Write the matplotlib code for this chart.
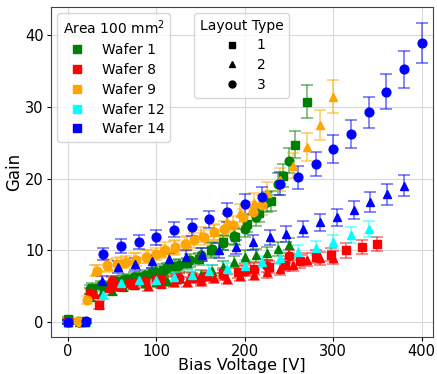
import matplotlib
matplotlib.use("Agg")
import matplotlib.pyplot as plt
from matplotlib.lines import Line2D

# Wafer 1 (green)
w1_sq_v = [0, 13.5, 27, 40.5, 54, 67.5, 81, 94.5, 108, 121.5, 135, 148.5, 162, 175.5, 189, 202.5, 216, 229.5, 243, 256.5, 270]
w1_sq_g = [0.5, 0.2, 4.8, 5.0, 5.7, 6.0, 6.3, 6.8, 7.3, 7.8, 8.2, 8.8, 10.0, 11.1, 11.9, 13.7, 15.2, 16.9, 20.4, 24.7, 30.7]
w1_sq_e = [0.3, 0.3, 0.6, 0.6, 0.7, 0.7, 0.7, 0.7, 0.8, 0.8, 0.8, 0.9, 1.0, 1.0, 1.1, 1.2, 1.3, 1.4, 1.6, 1.9, 2.3]
w1_tr_v = [0, 12.5, 25, 37.5, 50, 62.5, 75, 87.5, 100, 112.5, 125, 137.5, 150, 162.5, 175, 187.5, 200, 212.5, 225, 237.5, 250]
w1_tr_g = [0.0, 0.0, 3.5, 4.0, 4.4, 4.9, 5.2, 5.4, 5.6, 5.8, 6.1, 6.3, 6.6, 7.2, 7.7, 8.4, 9.1, 9.3, 9.6, 10.2, 10.7]
w1_tr_e = [0.3, 0.3, 0.5, 0.6, 0.6, 0.6, 0.6, 0.6, 0.7, 0.7, 0.7, 0.7, 0.7, 0.8, 0.8, 0.8, 0.9, 0.9, 0.9, 1.0, 1.0]
w1_ci_v = [0, 12.5, 25, 37.5, 50, 62.5, 75, 87.5, 100, 112.5, 125, 137.5, 150, 162.5, 175, 187.5, 200, 212.5, 225, 237.5, 250]
w1_ci_g = [0.2, 0.1, 4.6, 5.2, 5.6, 5.9, 6.3, 6.6, 7.0, 7.5, 8.0, 8.6, 9.4, 10.2, 11.0, 12.0, 13.0, 14.6, 16.7, 19.2, 22.5]
w1_ci_e = [0.3, 0.3, 0.6, 0.6, 0.7, 0.7, 0.7, 0.7, 0.8, 0.8, 0.8, 0.9, 0.9, 1.0, 1.0, 1.1, 1.1, 1.2, 1.4, 1.5, 1.8]

# Wafer 8 (red)
w8_sq_v = [0, 17.5, 35, 52.5, 70, 87.5, 105, 122.5, 140, 157.5, 175, 192.5, 210, 227.5, 245, 262.5, 280, 297.5, 315, 332.5, 350]
w8_sq_g = [0.1, 0.1, 2.4, 5.0, 5.5, 5.7, 6.0, 6.0, 6.2, 6.5, 6.8, 7.0, 7.4, 7.7, 8.0, 8.5, 9.1, 9.4, 10.0, 10.5, 10.9]
w8_sq_e = [0.3, 0.3, 0.5, 0.6, 0.7, 0.7, 0.7, 0.7, 0.7, 0.7, 0.7, 0.8, 0.8, 0.8, 0.8, 0.9, 0.9, 0.9, 1.0, 1.0, 1.0]
w8_tr_v = [0, 15, 30, 45, 60, 75, 90, 105, 120, 135, 150, 165, 180, 195, 210, 225, 240, 255, 270, 285, 300]
w8_tr_g = [0.0, 0.0, 4.0, 4.8, 5.0, 5.2, 5.0, 5.3, 5.6, 5.6, 5.7, 6.2, 6.0, 6.5, 6.6, 7.0, 7.4, 7.9, 8.7, 8.9, 9.0]
w8_tr_e = [0.3, 0.3, 0.6, 0.6, 0.6, 0.6, 0.6, 0.6, 0.7, 0.7, 0.7, 0.7, 0.7, 0.7, 0.7, 0.8, 0.8, 0.8, 0.9, 0.9, 0.9]
w8_ci_v = [0, 25, 50, 75, 100, 125, 150, 175, 200, 225, 250]
w8_ci_g = [0.0, 4.1, 5.8, 5.5, 6.0, 6.2, 6.0, 6.6, 7.2, 7.8, 9.2]
w8_ci_e = [0.3, 0.6, 0.7, 0.7, 0.7, 0.7, 0.7, 0.7, 0.8, 0.8, 0.9]

# Wafer 9 (orange)
w9_tr_v = [0, 15, 30, 45, 60, 75, 90, 105, 120, 135, 150, 165, 180, 195, 210, 225, 240, 255, 270, 285, 300]
w9_tr_g = [0.0, 0.1, 7.2, 7.8, 8.3, 8.8, 9.2, 9.8, 10.3, 11.0, 12.2, 12.5, 13.9, 15.2, 16.6, 18.0, 19.8, 21.8, 24.4, 27.5, 31.4]
w9_tr_e = [0.3, 0.3, 0.8, 0.8, 0.8, 0.9, 0.9, 0.9, 1.0, 1.0, 1.1, 1.1, 1.2, 1.3, 1.4, 1.5, 1.6, 1.7, 1.9, 2.1, 2.3]
w9_ci_v = [0, 11, 22, 33, 44, 55, 66, 77, 88, 99, 110, 121, 132, 143, 154, 165, 176, 187, 198, 209, 220]
w9_ci_g = [0.1, 0.2, 3.1, 7.2, 8.0, 8.1, 8.4, 8.7, 9.1, 9.5, 10.1, 10.5, 10.9, 11.4, 11.8, 12.6, 13.0, 13.6, 14.6, 15.4, 16.3]
w9_ci_e = [0.3, 0.3, 0.5, 0.8, 0.8, 0.8, 0.8, 0.9, 0.9, 0.9, 1.0, 1.0, 1.0, 1.0, 1.1, 1.1, 1.1, 1.2, 1.2, 1.3, 1.4]

# Wafer 12 (cyan)
w12_tr_v = [0, 20, 40, 60, 80, 100, 120, 140, 160, 180, 200, 220, 240, 260, 280, 300, 320, 340]
w12_tr_g = [0.0, 0.0, 3.8, 5.4, 5.9, 5.9, 6.3, 6.6, 7.1, 7.4, 7.8, 8.4, 9.0, 9.8, 10.3, 11.2, 12.1, 13.0]
w12_tr_e = [0.3, 0.3, 0.5, 0.6, 0.7, 0.7, 0.7, 0.7, 0.8, 0.8, 0.8, 0.8, 0.9, 0.9, 1.0, 1.0, 1.1, 1.1]

# Wafer 14 (blue)
w14_tr_v = [0, 19, 38, 57, 76, 95, 114, 133, 152, 171, 190, 209, 228, 247, 266, 285, 304, 323, 342, 361, 380]
w14_tr_g = [0.0, 0.1, 5.7, 7.7, 8.1, 8.5, 8.8, 9.1, 9.4, 10.0, 10.5, 11.1, 11.8, 12.3, 13.0, 13.9, 14.6, 15.6, 16.7, 17.8, 19.0]
w14_tr_e = [0.3, 0.3, 0.7, 0.8, 0.8, 0.9, 0.9, 0.9, 0.9, 1.0, 1.0, 1.0, 1.1, 1.1, 1.1, 1.2, 1.2, 1.3, 1.4, 1.5, 1.5]
w14_ci_v = [0, 20, 40, 60, 80, 100, 120, 140, 160, 180, 200, 220, 240, 260, 280, 300, 320, 340, 360, 380, 400]
w14_ci_g = [0.0, 0.2, 9.5, 10.6, 11.2, 11.8, 12.9, 13.2, 14.3, 15.3, 16.5, 17.4, 19.3, 20.2, 22.0, 24.1, 26.2, 29.2, 32.1, 35.2, 38.9]
w14_ci_e = [0.3, 0.3, 0.9, 1.0, 1.0, 1.1, 1.1, 1.2, 1.2, 1.3, 1.4, 1.4, 1.6, 1.6, 1.7, 1.9, 2.0, 2.2, 2.4, 2.6, 2.8]

wafer_names = ["Wafer 1", "Wafer 8", "Wafer 9", "Wafer 12", "Wafer 14"]
wafer_colors = ["green", "red", "orange", "cyan", "blue"]
layout_names = ["1", "2", "3"]
layout_markers = ["s", "^", "o"]

series = [
    (w1_sq_v, w1_sq_g, w1_sq_e, "green", "s"),
    (w1_tr_v, w1_tr_g, w1_tr_e, "green", "^"),
    (w1_ci_v, w1_ci_g, w1_ci_e, "green", "o"),
    (w8_sq_v, w8_sq_g, w8_sq_e, "red", "s"),
    (w8_tr_v, w8_tr_g, w8_tr_e, "red", "^"),
    (w8_ci_v, w8_ci_g, w8_ci_e, "red", "o"),
    (w9_tr_v, w9_tr_g, w9_tr_e, "orange", "^"),
    (w9_ci_v, w9_ci_g, w9_ci_e, "orange", "o"),
    (w12_tr_v, w12_tr_g, w12_tr_e, "cyan", "^"),
    (w14_tr_v, w14_tr_g, w14_tr_e, "blue", "^"),
    (w14_ci_v, w14_ci_g, w14_ci_e, "blue", "o"),
]

fig = plt.figure(figsize=(4.37, 3.74), dpi=100)
ax = fig.add_axes([0.116, 0.098, 0.875, 0.884])

for v, g, e, col, mk in series:
    eb = ax.errorbar(v, g, yerr=e, fmt=mk, color=col, ms=6.3, capsize=4,
                     elinewidth=1.2, capthick=1.2)
    for ln in eb[1]:
        ln.set_alpha(0.55)
    for ln in eb[2]:
        ln.set_alpha(0.55)

ax.set_xlim(-19.6, 413)
ax.set_ylim(-2.1, 43.9)
ax.set_xticks([0, 100, 200, 300, 400])
ax.set_yticks([0, 10, 20, 30, 40])
ax.tick_params(labelsize=10.5, length=3)
ax.tick_params(axis="x", pad=1.5)
ax.tick_params(axis="y", pad=2)
ax.grid(True, color="#d9d9d9", lw=0.8)
ax.set_axisbelow(True)
for sp in ax.spines.values():
    sp.set_color("#444444")
ax.set_xlabel("Bias Voltage [V]", fontsize=11.5, labelpad=-0.5)
ax.set_ylabel("Gain", fontsize=12, labelpad=1.5)

h1 = [Line2D([], [], marker="s", ls="none", color=c, ms=6) for c in wafer_colors]
leg1 = ax.legend(h1, wafer_names, title="Area 100 mm$^2$", loc="upper left",
                 bbox_to_anchor=(0.0165, 0.981), fontsize=10, title_fontsize=10,
                 borderaxespad=0, labelspacing=0.42)
ax.add_artist(leg1)
h2 = [Line2D([], [], marker=m, ls="none", color="black", ms=5) for m in layout_markers]
ax.legend(h2, layout_names, title="Layout Type", loc="upper left",
          bbox_to_anchor=(0.375, 0.981), fontsize=10, title_fontsize=10,
          borderaxespad=0, labelspacing=0.42)

fig.savefig("out.png", dpi=100)
